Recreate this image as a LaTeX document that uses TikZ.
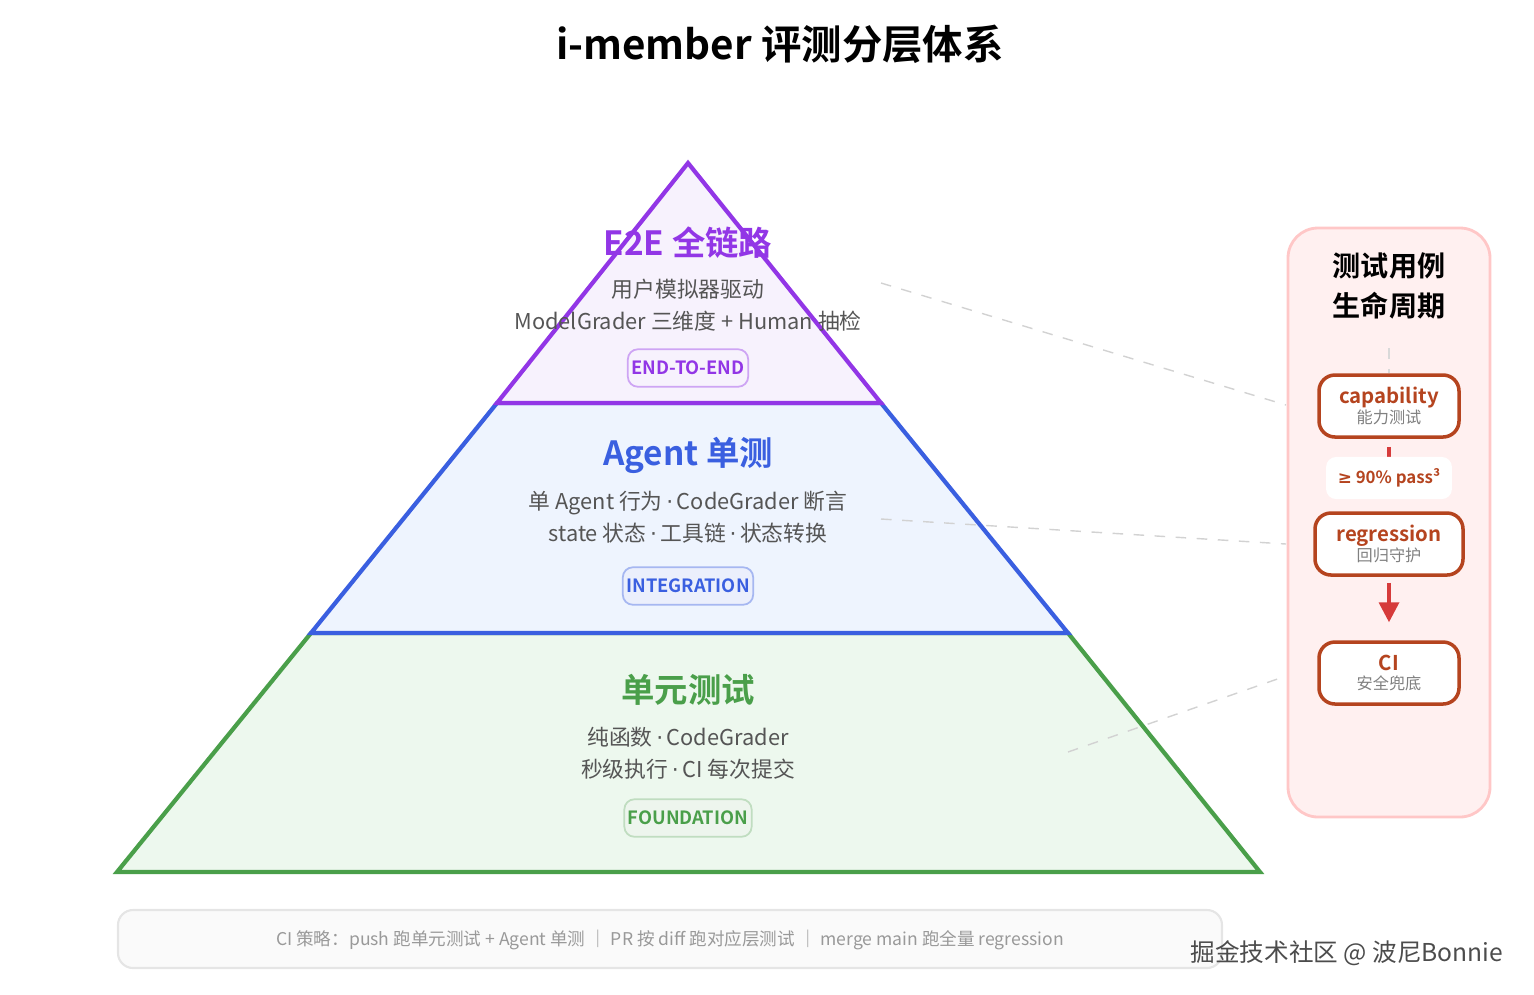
\documentclass[tikz,border=0pt]{standalone}
\usepackage{fontspec}
\setmainfont{Noto Sans CJK SC}[BoldFont={Noto Sans CJK SC Bold}]
\newfontfamily\latinfont{DejaVu Sans}
\usetikzlibrary{positioning,arrows.meta}
\definecolor{topc}{HTML}{9236E6}
\definecolor{topf}{HTML}{F7F2FD}
\definecolor{midc}{HTML}{3A5FE0}
\definecolor{midf}{HTML}{EEF4FE}
\definecolor{botc}{HTML}{4A9F4A}
\definecolor{botf}{HTML}{EDF8EE}
\definecolor{rust}{HTML}{B5441F}
\definecolor{redc}{HTML}{D63B3B}
\definecolor{txtc}{HTML}{555555}
\newcommand{\stagesub}[1]{{\fontsize{4.6}{6}\selectfont\mdseries\color{gray}#1}}
\newcommand{\dotsep}{{\latinfont\,·\,}}
\tikzset{
  head/.style={font=\fontsize{9.5}{11}\selectfont\bfseries},
  body/.style={font=\fontsize{6.2}{9.2}\selectfont, text=txtc, align=center},
  badge/.style={draw, rounded corners=1mm, line width=0.5pt, font=\fontsize{5.2}{6}\selectfont\bfseries,
    inner xsep=1pt, minimum height=3.2mm},
  stage/.style={draw=rust, line width=1pt, fill=white, rounded corners=1.6mm, align=center,
    minimum height=6.2mm, font=\fontsize{5.8}{6.5}\selectfont\bfseries, text=rust},
  link/.style={dashed, draw=gray!35, line width=0.4pt},
}
\begin{document}
\begin{tikzpicture}[x=0.1mm,y=-0.1mm]
  \useasboundingbox (0,0) rectangle (1534,994);
  % title
  \node[font=\fontsize{11.5}{13}\selectfont\bfseries] (title) at (780,44) {i-member 评测分层体系};
  % pyramid layers
  \filldraw[draw=botc, fill=botf, line width=1.2pt] (311,633) -- (1068,633) -- (1260,872) -- (117,872) -- cycle;
  \filldraw[draw=midc, fill=midf, line width=1.2pt] (497,403) -- (881,403) -- (1068,633) -- (311,633) -- cycle;
  \filldraw[draw=topc, fill=topf, line width=1.2pt] (688,163) -- (881,403) -- (497,403) -- cycle;
  % top layer
  \node[head, text=topc] (e2e) at (688,243) {E2E 全链路};
  \node[body] (e2etxt) at (688,305) {用户模拟器驱动\\ModelGrader 三维度 + Human 抽检};
  \node[badge, draw=topc!45, fill=topf, text=topc] (e2eb) at (688,368) {END-TO-END};
  % middle layer
  \node[head, text=midc] (agent) at (688,455) {Agent 单测};
  \node[body] (agenttxt) at (688,517) {单 Agent 行为\dotsep CodeGrader 断言\\state 状态\dotsep 工具链\dotsep 状态转换};
  \node[badge, draw=midc!45, fill=midc!10, text=midc] (agentb) at (688,586) {INTEGRATION};
  % bottom layer
  \node[head, text=botc] (unit) at (688,690) {单元测试};
  \node[body] (unittxt) at (688,753) {纯函数\dotsep CodeGrader\\秒级执行\dotsep CI 每次提交};
  \node[badge, draw=botc!35, fill=botc!10, text=botc] (unitb) at (688,818) {FOUNDATION};
  % lifecycle panel
  \filldraw[draw=red!22, fill=red!6, line width=0.8pt, rounded corners=3mm] (1288,228) rectangle (1490,817);
  \node[font=\fontsize{8}{11.5}\selectfont\bfseries, align=center] (life) at (1389,286) {测试用例\\生命周期};
  \node[stage, minimum width=14mm] (cap) at (1389,406) {capability\\[-1pt]\stagesub{能力测试}};
  \node[stage, minimum width=14.8mm] (reg) at (1389,544) {regression\\[-1pt]\stagesub{回归守护}};
  \node[stage, minimum width=14mm] (ci) at (1389,673) {CI\\[-1pt]\stagesub{安全兜底}};
  \draw[dashed, gray!30, line width=0.6pt] (1389,348) -- (cap.north);
  \coordinate (capend) at (1389,462);
  \draw[redc, line width=1pt] ([yshift=-0.8mm]cap.south) -- (capend);
  \node[fill=white, rounded corners=1mm, font=\fontsize{4.8}{6}\selectfont\bfseries, text=rust,
    minimum width=12.5mm, minimum height=2.6mm] (pass) at (1389,478) {{\latinfont ≥} 90\% pass³};
  \draw[redc, line width=1pt, -{Triangle[length=2mm,width=2mm]}] ([yshift=-0.6mm]reg.south) -- ([yshift=1.8mm]ci.north);
  % dashed links to layers
  \coordinate (l1) at (881,283);
  \coordinate (l2) at (881,519);
  \coordinate (l3) at (1068,752);
  \draw[link] (l1) -- (1286,405);
  \draw[link] (l2) -- (1286,544);
  \draw[link] (l3) -- (1286,676);
  % footer
  \filldraw[draw=gray!20, fill=gray!4, line width=0.6pt, rounded corners=1.5mm] (118,910) rectangle (1222,968);
  \node[font=\fontsize{5}{6}\selectfont, text=gray!80] (foot) at (670,940)
    {CI 策略：push 跑单元测试 + Agent 单测 ｜ PR 按 diff 跑对应层测试 ｜ merge main 跑全量 regression};
  \node[font=\fontsize{7}{8}\selectfont, text=black!70] (mark) at (1347,953) {掘金技术社区 @ 波尼Bonnie};
\end{tikzpicture}
\end{document}
